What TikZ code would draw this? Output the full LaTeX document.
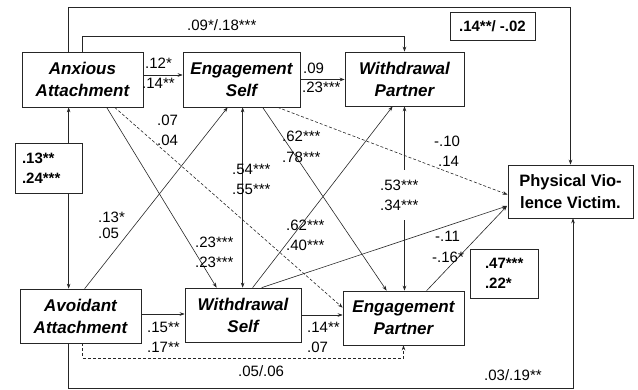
\documentclass[tikz,border=0pt]{standalone}
\usepackage{fontspec}
\setmainfont{Liberation Sans}
\usetikzlibrary{arrows.meta}
\begin{document}
\begin{tikzpicture}[x=1pt,y=-1pt,
  box/.style={draw=black!85, line width=0.7pt, fill=white, align=center, inner sep=0pt,
    font=\fontsize{17}{22}\selectfont\bfseries\itshape},
  num/.style={font=\fontsize{15}{20}\selectfont, inner sep=0pt, anchor=west},
  bnum/.style={draw=black!85, line width=0.7pt, fill=white, align=left, inner ysep=0pt,
    font=\fontsize{15}{20}\selectfont\bfseries},
  con/.style={draw=black!85, line width=0.6pt},
  arr/.style={con, -{Stealth[length=5pt,width=3.6pt]}},
  darr/.style={con, {Stealth[length=5pt,width=3.6pt]}-{Stealth[length=5pt,width=3.6pt]}},
  dsh/.style={dash pattern=on 3pt off 2pt}
]
\useasboundingbox (0,0) rectangle (638,389);

% main boxes
\node[box, minimum width=121pt, minimum height=55pt] (anx) at (82.5,79.5) {Anxious\\Attachment};
\node[box, minimum width=117pt, minimum height=55pt] (es) at (241.5,79.5) {Engagement\\Self};
\node[box, minimum width=119pt, minimum height=54pt] (wp) at (404.5,79) {Withdrawal\\Partner};
\node[box, font=\fontsize{16.5}{22}\selectfont\bfseries, minimum width=125pt, minimum height=53pt] (phys) at (570.5,191.5) {Physical Vio-\\lence Victim.};
\node[box, minimum width=121pt, minimum height=54pt] (av) at (80.5,316) {Avoidant\\Attachment};
\node[box, minimum width=116pt, minimum height=54pt] (ws) at (243,315) {Withdrawal\\Self};
\node[box, minimum width=121pt, minimum height=54pt] (ep) at (403.5,318) {Engagement\\Partner};

% helper coordinates
\coordinate (topR) at (570.5,7);
\coordinate (midR) at (404.5,36);
\coordinate (botR) at (573,388);
\coordinate (dashR) at (403.5,358);
\coordinate (pin) at (507,206);

% outer paths
\draw[arr] ([xshift=47pt]anx.north west) |- (topR) -- (phys.north);
\draw[arr] ([xshift=61pt]anx.north west) |- (midR) -- (wp.north);
\draw[arr] ([xshift=49pt]av.south west) |- (botR) -- (botR |- phys.south);
\draw[arr,dsh] ([xshift=63pt]av.south west) |- (dashR) -- (ep.south);

% horizontal arrows
\draw[arr] ([yshift=4.5pt]anx.east) -- ([yshift=4.5pt]es.west);
\draw[arr] (es.east) -- (wp.west |- es.east);
\draw[arr] ([yshift=1pt]av.east |- ws.west) -- ([yshift=1pt]ws.west);
\draw[arr] (ws.east) -- (ws.east -| ep.west);

% vertical double arrows
\draw[darr] ([xshift=47pt]anx.south west) -- ([xshift=49pt]av.north west);
\draw[darr] ([xshift=60pt]es.south west) -- ([xshift=58pt]ws.north west);
\draw[darr] (wp.south) -- (wp.south |- ep.north);

% diagonals
\draw[arr] ([xshift=85pt]anx.south west) -- ([xshift=32pt]ws.north west);
\draw[arr,dsh] ([xshift=93pt]anx.south west) -- ([yshift=-17pt]ep.north west);
\draw[arr] ([xshift=65pt]av.north west) -- ([xshift=45pt]es.south west);
\draw[arr] ([xshift=80pt]es.south west) -- ([xshift=44pt]ep.north west);
\draw[arr,dsh] ([xshift=95pt]es.south west) -- ([yshift=-30pt]phys.north west);
\draw[arr] ([xshift=68pt]ws.north west) -- ([xshift=48pt]wp.south west);
\draw[arr] ([xshift=77pt]ws.north west) -- (pin);
\draw[arr] ([xshift=84pt]ep.north west) -- (pin);

% bold boxed coefficients
\node[bnum, text width=53pt, inner xsep=7pt, minimum height=50pt] (b1) at (48.5,168) {.13**\\.24***};
\node[bnum, inner xsep=0pt, minimum width=85pt, minimum height=28pt, align=center] (b2) at (492.5,26) {.14**/ -.02};
\node[bnum, text width=38pt, inner xsep=15pt, minimum height=49pt] (b3) at (504,273.5) {.47***\\.22*};

% label with white backing on WP<->EP
\node[fill=white, inner xsep=0pt, minimum height=50pt, minimum width=40pt] (g534) at (399,195) {};
\node[num] (l534a) at (380,185) {.53***};
\node[num] (l534b) at (380,205) {.34***};

% coefficient labels
\node[num] (l0918) at (187,25) {.09*/.18***};
\node[num] (l0319) at (484,375) {.03/.19**};
\node[num] (l0506) at (238,371) {.05/.06};
\node[num] (l12) at (145,63) {.12*};
\node[num] (l14) at (142,83) {.14**};
\node[num] (l09) at (303,68) {.09};
\node[num] (l23) at (302,87) {.23***};
\node[num] (l07) at (157,120) {.07};
\node[num] (l04) at (157,140) {.04};
\node[num] (l62a) at (282,136) {.62***};
\node[num] (l78) at (282,157) {.78***};
\node[num] (l54) at (232,169) {.54***};
\node[num] (l55) at (232,189) {.55***};
\node[num] (l10) at (434,141) {-.10};
\node[num] (l14b) at (438,161) {.14};
\node[num] (l13) at (98,217) {.13*};
\node[num] (l05) at (98,233) {.05};
\node[num] (l62b) at (286,225) {.62***};
\node[num] (l40) at (286,245) {.40***};
\node[num] (l23a) at (195,242) {.23***};
\node[num] (l23b) at (195,262) {.23***};
\node[num] (l11) at (435,236) {-.11};
\node[num] (l16) at (432,257) {-.16*};
\node[num] (l15) at (147,327) {.15**};
\node[num] (l17) at (147,347) {.17**};
\node[num] (l14c) at (307,327) {.14**};
\node[num] (l07b) at (307,347) {.07};
\end{tikzpicture}
\end{document}
